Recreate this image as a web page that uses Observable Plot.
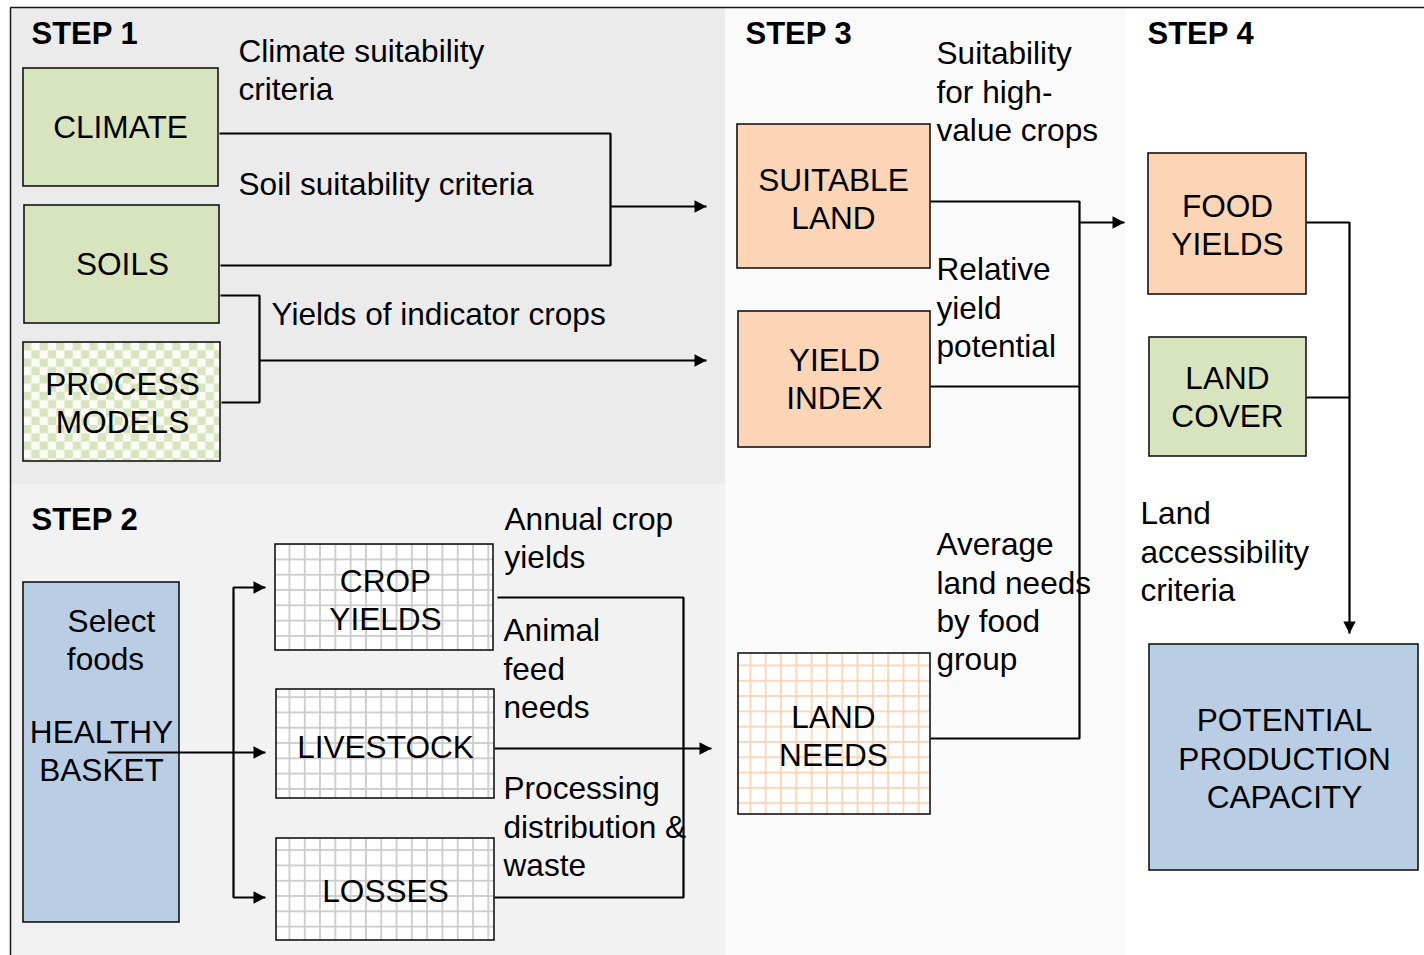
<!DOCTYPE html>
<html>
<head>
<meta charset="utf-8">
<script src="https://cdn.jsdelivr.net/npm/d3@7"></script>
<script src="https://cdn.jsdelivr.net/npm/@observablehq/plot@0.6"></script>
<style>
  html, body { margin: 0; padding: 0; background: #ffffff; }
  #chart svg { display: block; }
</style>
</head>
<body>
<div id="chart"></div>
<script>
// ---------------- content ----------------
const stepTitles = ["STEP 1", "STEP 2", "STEP 3", "STEP 4"];
const boxNames = [
  "CLIMATE", "SOILS", "PROCESS\nMODELS",
  "CROP\nYIELDS", "LIVESTOCK", "LOSSES",
  "SUITABLE\nLAND", "YIELD\nINDEX", "LAND\nNEEDS",
  "FOOD\nYIELDS", "LAND\nCOVER", "POTENTIAL\nPRODUCTION\nCAPACITY"
];
const basketLines = ["Select", "foods", "HEALTHY", "BASKET"];
const flowLabels = [
  "Climate suitability\ncriteria",
  "Soil suitability criteria",
  "Yields of indicator crops",
  "Annual crop\nyields",
  "Animal\nfeed\nneeds",
  "Processing\ndistribution &\nwaste",
  "Suitability\nfor high-\nvalue crops",
  "Relative\nyield\npotential",
  "Average\nland needs\nby food\ngroup",
  "Land\naccessibility\ncriteria"
];

// ---------------- layout (diagram geometry) ----------------
const W = 1424, H = 955;
const panelLayout = [
  {x1: 10, y1: 7, x2: 725, y2: 484, fill: "#ebebeb"},
  {x1: 10, y1: 484, x2: 725, y2: 955, fill: "#f2f2f2"},
  {x1: 725, y1: 7, x2: 1125, y2: 955, fill: "#fafafa"},
  {x1: 1125, y1: 7, x2: 1424, y2: 955, fill: "#ffffff"}
];
const stepLayout = [{x: 31, y: 33}, {x: 31, y: 519}, {x: 745, y: 33}, {x: 1147, y: 33}];
const boxLayout = [
  {x1: 23, y1: 68, x2: 218, y2: 186, kind: "green", tx: 120, ty: 127},
  {x1: 24, y1: 205, x2: 219, y2: 323, kind: "green", tx: 122, ty: 264},
  {x1: 23, y1: 342, x2: 220, y2: 461, kind: "check", tx: 122, ty: 403},
  {x1: 275, y1: 544, x2: 493, y2: 650, kind: "gridGray", tx: 385, ty: 600},
  {x1: 276, y1: 689, x2: 494, y2: 798, kind: "gridGray", tx: 385, ty: 747},
  {x1: 276, y1: 838, x2: 494, y2: 940, kind: "gridGray", tx: 385, ty: 891},
  {x1: 737, y1: 124, x2: 930, y2: 268, kind: "peach", tx: 833, ty: 199},
  {x1: 738, y1: 311, x2: 930, y2: 447, kind: "peach", tx: 834, ty: 379},
  {x1: 738, y1: 653, x2: 930, y2: 814, kind: "peachGrid", tx: 833, ty: 736},
  {x1: 1148, y1: 153, x2: 1306, y2: 294, kind: "peach", tx: 1227, ty: 225},
  {x1: 1149, y1: 337, x2: 1306, y2: 456, kind: "green", tx: 1227, ty: 397},
  {x1: 1149, y1: 644, x2: 1418, y2: 870, kind: "blue", tx: 1284, ty: 759}
];
const basketBox = {x1: 23, y1: 582, x2: 179, y2: 922, kind: "blue"};
const basketLayout = [{x: 111, y: 623}, {x: 105, y: 661}, {x: 101, y: 734}, {x: 101, y: 772}];
const flowLayout = [
  {x: 238, y: 70}, {x: 238, y: 184}, {x: 271, y: 314}, {x: 504, y: 538},
  {x: 503, y: 669}, {x: 503, y: 827}, {x: 936, y: 92}, {x: 936, y: 308},
  {x: 936, y: 602}, {x: 1140, y: 552}
];
const connectorLayout = [
  [[219, 133], [610, 133], [610, 265], [220, 265]],
  [[610, 206], [706, 206]],
  [[220, 295], [259, 295], [259, 402], [221, 402]],
  [[259, 360], [706, 360]],
  [[107, 752], [265, 752]],
  [[265, 587], [233, 587], [233, 897], [265, 897]],
  [[497, 597], [683, 597], [683, 897], [494, 897]],
  [[494, 748], [711, 748]],
  [[930, 201], [1079, 201], [1079, 738], [930, 738]],
  [[930, 386], [1079, 386]],
  [[1079, 222], [1124, 222]],
  [[1306, 222], [1349, 222], [1349, 633]],
  [[1306, 397], [1349, 397]]
];
const tipLayout = [
  {x: 706, y: 206, rot: 0}, {x: 706, y: 360, rot: 0},
  {x: 265, y: 752, rot: 0}, {x: 265, y: 587, rot: 0}, {x: 265, y: 897, rot: 0},
  {x: 711, y: 748, rot: 0}, {x: 1124, y: 222, rot: 0}, {x: 1349, y: 633, rot: 90}
];
const borderLayout = [[10, 955], [10, 7], [1424, 7]];

const palette = {
  green: "#d7e4bd", peach: "#fbd5b5", blue: "#b9cde5",
  check: "url(#check)", gridGray: "url(#gridGray)", peachGrid: "url(#peachGrid)"
};

// ---------------- derived tables ----------------
const boxes = boxNames.map((name, i) => ({name, ...boxLayout[i]}));
const steps = stepTitles.map((t, i) => ({text: t, ...stepLayout[i]}));
const basket = basketLines.map((t, i) => ({text: t, ...basketLayout[i]}));
const flows = flowLabels.map((t, i) => ({text: t, ...flowLayout[i]}));
const connectorPts = connectorLayout.flatMap((pts, id) => pts.map(([x, y]) => ({id, x, y})));
const borderPts = borderLayout.map(([x, y]) => ({x, y}));

const arrowHead = {
  draw(ctx) { ctx.moveTo(0, 0); ctx.lineTo(-12, -6.2); ctx.lineTo(-12, 6.2); ctx.closePath(); }
};

const FONT = "'Liberation Sans', Arial, Helvetica, sans-serif";
const FS = 31.6;
const LH = 1.215;
const DY = -2;

const chart = Plot.plot({
  width: W, height: H,
  margin: 0,
  x: {domain: [0, W], range: [0, W], axis: null},
  y: {domain: [0, H], range: [0, H], axis: null},
  color: {type: "identity"},
  style: {fontFamily: FONT, background: "#ffffff", color: "#000"},
  marks: [
    Plot.rect(panelLayout, {x1: "x1", x2: "x2", y1: "y1", y2: "y2", fill: "fill"}),
    Plot.line(borderPts, {x: "x", y: "y", stroke: "#1a1a1a", strokeWidth: 1.5, strokeLinejoin: "miter"}),
    Plot.rect([basketBox], {x1: "x1", x2: "x2", y1: "y1", y2: "y2", fill: d => palette[d.kind], stroke: "#151515", strokeWidth: 1.6}),
    Plot.line(connectorPts, {x: "x", y: "y", z: "id", stroke: "#000", strokeWidth: 2.2, strokeLinejoin: "miter", strokeLinecap: "butt"}),
    Plot.dot(tipLayout, {x: "x", y: "y", rotate: "rot", symbol: arrowHead, fill: "#000", stroke: "none", r: 5}),
    Plot.rect(boxes, {x1: "x1", x2: "x2", y1: "y1", y2: "y2", fill: d => palette[d.kind], stroke: "#151515", strokeWidth: 1.6}),
    Plot.text(boxes, {x: "tx", y: "ty", text: "name", fontSize: FS, lineHeight: LH, dy: DY, textAnchor: "middle", fill: "#000"}),
    Plot.text(basket, {x: "x", y: "y", text: "text", fontSize: FS, dy: DY, textAnchor: "middle", fill: "#000"}),
    Plot.text(flows, {x: "x", y: "y", text: "text", fontSize: FS, lineHeight: LH, dy: DY, textAnchor: "start", fill: "#000"}),
    Plot.text(steps, {x: "x", y: "y", text: "text", fontSize: 31, fontWeight: "bold", dy: 1, textAnchor: "start", fill: "#000"})
  ]
});

// pattern definitions used by the patterned boxes
const defs = d3.select(chart).insert("defs", ":first-child");
const chk = defs.append("pattern").attr("id", "check").attr("patternUnits", "userSpaceOnUse")
  .attr("width", 16.6).attr("height", 16.6).attr("x", 23).attr("y", 342);
chk.append("rect").attr("width", 16.6).attr("height", 16.6).attr("fill", "#fbfcf6");
chk.append("rect").attr("width", 8.3).attr("height", 8.3).attr("fill", "#d7e4bd");
chk.append("rect").attr("x", 8.3).attr("y", 8.3).attr("width", 8.3).attr("height", 8.3).attr("fill", "#d7e4bd");

function gridPattern(id, color, x0, y0) {
  const s = 15.3;
  const p = defs.append("pattern").attr("id", id).attr("patternUnits", "userSpaceOnUse")
    .attr("width", s).attr("height", s).attr("x", x0).attr("y", y0);
  p.append("rect").attr("width", s).attr("height", s).attr("fill", "#ffffff");
  p.append("rect").attr("width", 1.8).attr("height", s).attr("fill", color);
  p.append("rect").attr("width", s).attr("height", 1.8).attr("fill", color);
}
gridPattern("gridGray", "#cccccc", 288.5, 558.5);
gridPattern("peachGrid", "#fbd5b5", 749.5, 664.5);

document.getElementById("chart").appendChild(chart);
</script>
</body>
</html>
